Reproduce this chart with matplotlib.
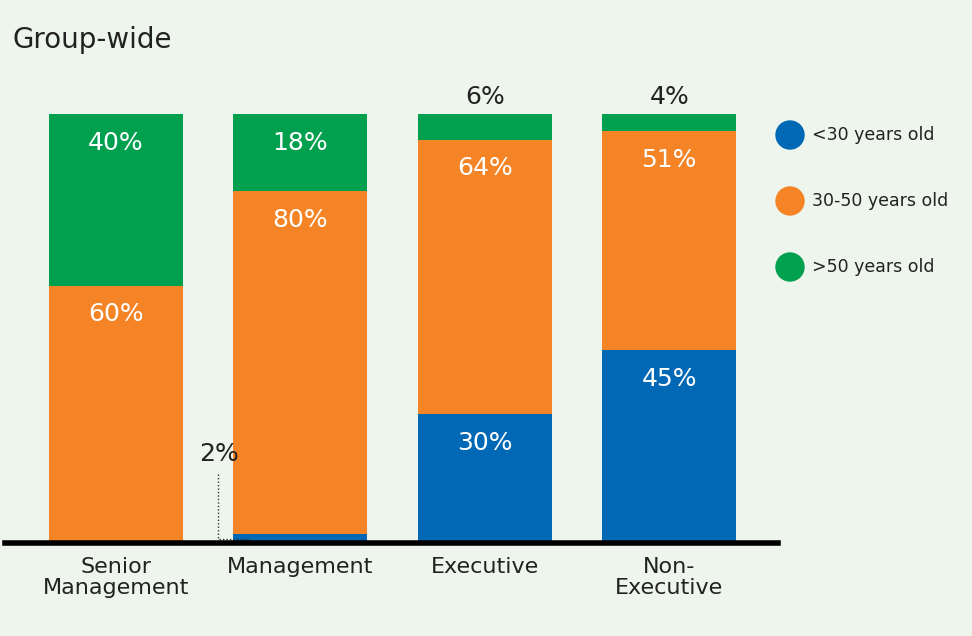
import matplotlib
matplotlib.use("Agg")
import matplotlib.pyplot as plt

categories = ["Senior\nManagement", "Management", "Executive", "Non-\nExecutive"]
under30 = [0, 2, 30, 45]
mid = [60, 80, 64, 51]
over50 = [40, 18, 6, 4]
series_names = ["<30 years old", "30-50 years old", ">50 years old"]
colors = ["#0068B5", "#F58426", "#00A04F"]
bg = "#EEF5EC"

W, H = 972, 636
fig = plt.figure(figsize=(W/100, H/100), dpi=100, facecolor=bg)
ax = fig.add_axes([5/W, (H-543)/H, (778-5)/W, (543-114)/H])
ax.set_facecolor(bg)
ax.set_xlim(-0.60, 3.59)
ax.set_ylim(0, 100)
x = list(range(len(categories)))
w = 0.726
ax.bar(x, under30, w, color=colors[0])
ax.bar(x, mid, w, bottom=under30, color=colors[1])
bot2 = [a+b for a, b in zip(under30, mid)]
ax.bar(x, over50, w, bottom=bot2, color=colors[2])

off = 6.7
for i in x:
    segs = [(under30[i], 0), (mid[i], under30[i]), (over50[i], bot2[i])]
    for v, b in segs:
        if v == 0:
            continue
        top = b + v
        if v >= 10:
            ax.text(i, top - off, f"{v}%", ha="center", va="center", color="white", fontsize=18)
        elif i >= 2 and v == over50[i]:
            ax.text(i, top + 4, f"{v}%", ha="center", va="center", color="#222222", fontsize=18, clip_on=False)
# 2% callout
ax.text(0.56, 20.7, f"{under30[1]}%", ha="center", va="center", color="#222222", fontsize=18)
ax.plot([0.555, 0.555, 0.72], [16, 1, 1], ls=(0, (1, 1.5)), color="#333333", lw=1)

for s in ["top", "right", "left"]:
    ax.spines[s].set_visible(False)
ax.spines["bottom"].set_linewidth(4)
ax.spines["bottom"].set_color("black")
ax.set_yticks([])
ax.set_xticks(x)
ax.set_xticklabels(categories, fontsize=16, color="#222222", linespacing=1.1)
ax.tick_params(axis="x", length=0, pad=10)

fig.text(12/W, 1-40/H, "Group-wide", fontsize=20, color="#222222", va="center")
for k, (name, c) in enumerate(zip(series_names, colors)):
    yy = 1 - (135 + 66*k)/H
    fig.patches.append(matplotlib.patches.Ellipse((790/W, yy), 28/W, 28/H, transform=fig.transFigure, color=c))
    fig.text(812/W, yy, name, fontsize=12.5, color="#222222", va="center")

fig.savefig("out.png", dpi=100, facecolor=bg)
